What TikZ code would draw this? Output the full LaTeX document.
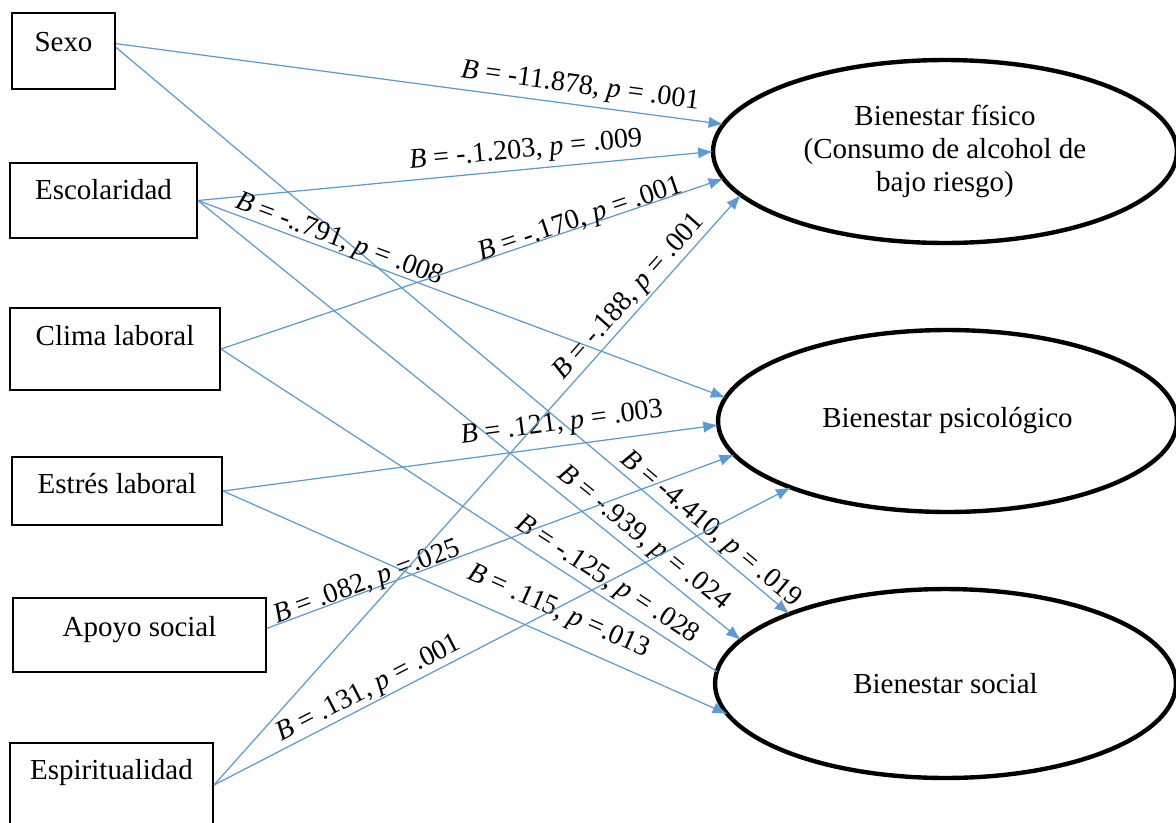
\documentclass[tikz,border=0pt]{standalone}
\usepackage{fontspec}
\setmainfont{Liberation Serif}
\usepackage{tikz}
\usetikzlibrary{shapes.geometric,arrows.meta}
\definecolor{linkblue}{RGB}{91,155,213}
\tikzstyle{var} = [rectangle, draw=black, line width=1.1pt, inner sep=0pt, text height=11pt, font=\fontsize{16.5}{19}\selectfont]
\tikzstyle{wellbeing} = [ellipse, draw=black, line width=2.5pt, inner sep=0pt, outer sep=0pt, align=center, font=\fontsize{16.5}{19}\selectfont]
\tikzstyle{arrow} = [draw=linkblue, line width=0.7pt, -{Latex[length=8.5pt,width=6.5pt]}]
\tikzstyle{coef} = [sloped, inner sep=0pt, font=\fontsize{16}{19}\selectfont]

\begin{document}
\begin{tikzpicture}[x=0.02cm,y=-0.02cm]
\useasboundingbox (0,0) rectangle (1176,822);
% predictores
\node (sexo) [var, minimum width=2.06cm, minimum height=1.52cm, text depth=11pt] at (63.5,51) {Sexo};
\node (esco) [var, minimum width=3.74cm, minimum height=1.5cm, text depth=12pt] at (103.5,200.5) {Escolaridad};
\node (clima) [var, minimum width=4.2cm, minimum height=1.64cm, text depth=15pt] at (115,349) {Clima laboral};
\node (estres) [var, minimum width=4.2cm, minimum height=1.36cm, text depth=8pt] at (117,491) {Estrés laboral};
\node (apoyo) [var, minimum width=5.06cm, minimum height=1.48cm, text depth=9pt] at (139.5,635) {Apoyo social};
\node (espi) [var, minimum width=4.06cm, minimum height=1.68cm, text depth=17pt] at (111.5,785) {Espiritualidad};
% bienestar
\node (fisico) [wellbeing, minimum width=9.28cm, minimum height=3.66cm] at (945,151.5) {Bienestar físico\\(Consumo de alcohol de\\bajo riesgo)};
\node (psico) [wellbeing, minimum width=9.18cm, minimum height=3.64cm] at (947.5,421) {Bienestar psicológico};
\node (social) [wellbeing, minimum width=9.22cm, minimum height=3.78cm] at (945.5,683.5) {Bienestar social};
% efectos
\draw [arrow] (sexo.8) -- (fisico.173) node [coef, above=3pt, pos=.76] {\textit{B} = -11.878, \textit{p} = .001};
\draw [arrow] (sexo.4) -- (social.156) node [coef, above=0.5pt, pos=.87] {\textit{B} = -4.410, \textit{p} = .019};
\draw [arrow] (esco.east) -- (fisico.180) node [coef, above=3pt, pos=.64] {\textit{B} = -.1.203, \textit{p} = .009};
\draw [arrow] (esco.east) -- (psico.174) node [coef, above=-0.5pt, pos=.26] {\textit{B} = -..791, \textit{p} = .008};
\draw [arrow] (esco.east) -- (social.168) node [coef, above=2.5pt, pos=.80] {\textit{B} = -.939, \textit{p} = .024};
\draw [arrow] (clima.east) -- (fisico.187) node [coef, above=-3.5pt, pos=.72] {\textit{B} = -.170, \textit{p} = .001};
\draw [arrow, -] (clima.east) -- (social.177) node [coef, above=2pt, pos=.76] {\textit{B} = -.125, \textit{p} = .028};
\draw [arrow] (estres.east) -- (psico.181) node [coef, above=5pt, pos=.69] {\textit{B} = .121, \textit{p} = .003};
\draw [arrow] (estres.east) -- (social.188) node [coef, above=7pt, pos=.645] {\textit{B} = .115, \textit{p} =.013};
\draw [arrow] (apoyo.3) -- (psico.189) node [coef, above=-3pt, pos=.22] {\textit{B} = .082, \textit{p} =.025};
\draw [arrow] (espi.east) -- (fisico.192) node [coef, above=1pt, pos=.81] {\textit{B} = -.188, \textit{p} = .001};
\draw [arrow] (espi.east) -- (psico.203) node [coef, above=0.5pt, pos=.28] {\textit{B} = .131, \textit{p} = .001};
\end{tikzpicture}
\end{document}
